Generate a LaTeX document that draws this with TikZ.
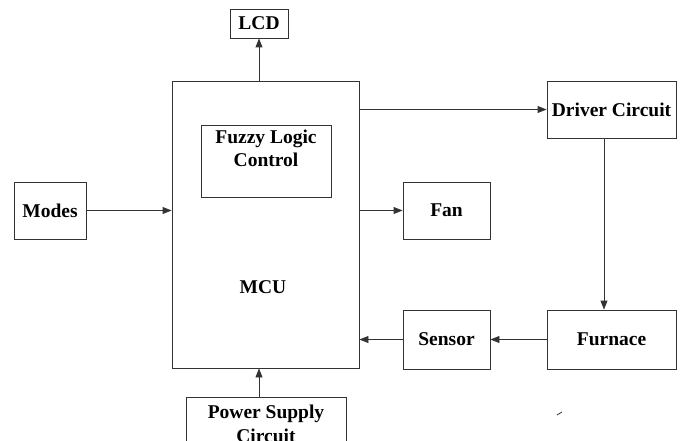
\documentclass[tikz,border=0pt]{standalone}
\usepackage{fontspec}
\setmainfont{Liberation Serif}
\usetikzlibrary{arrows.meta}
\begin{document}
\begin{tikzpicture}[x=1pt,y=-1pt,
  box/.style={draw=black!80,line width=0.9pt,rectangle,inner sep=0pt,
    font=\fontsize{19.5}{23}\selectfont\bfseries,align=center},
  lbl/.style={inner sep=0pt,font=\fontsize{19.5}{23}\selectfont\bfseries,align=center},
  conn/.style={draw=black!80,line width=0.9pt,-{Triangle[length=9pt,width=7pt]}}]
\useasboundingbox (0,0) rectangle (683,441);
\clip (0,0) rectangle (683,441);
\node[box,minimum width=58pt,minimum height=29pt] (lcd) at (259,23.5) {LCD};
\node[box,minimum width=187pt,minimum height=287pt] (mcu) at (265.5,224.5) {};
\node[lbl] (mcutext) at (263,287) {MCU};
\node[box,minimum width=130pt,minimum height=72pt] (flc) at (266,161) {};
\node[lbl,anchor=north] (flctext) at ([yshift=-5pt]flc.north) {Fuzzy Logic\\Control};
\node[box,minimum width=129pt,minimum height=57pt] (drv) at (611.5,109.5) {Driver Circuit};
\node[box,minimum width=129pt,minimum height=59pt] (fur) at (611.5,339.5) {Furnace};
\node[box,minimum width=87pt,minimum height=59pt] (sen) at (446.5,339.5) {Sensor};
\node[box,minimum width=87pt,minimum height=57pt] (fan) at (446.5,210.5) {Fan};
\node[box,minimum width=72pt,minimum height=57pt] (modes) at (50,210.5) {Modes};
\node[box,minimum width=160pt,minimum height=66pt] (ps) at (266,430) {};
\node[lbl,anchor=north,font=\fontsize{19.5}{24.5}\selectfont\bfseries] (pstext) at ([yshift=-8pt]ps.north) {Power Supply\\Circuit};
\draw[conn] (lcd.south |- mcu.north) -- (lcd.south);
\draw[conn] (mcu.east |- drv.west) -- (drv.west);
\draw[conn] ([xshift=-7.5pt]drv.south) -- ([xshift=-7.5pt]fur.north);
\draw[conn] (fur.west) -- (sen.east);
\draw[conn] (sen.west) -- (sen.west -| mcu.east);
\draw[conn] (modes.east) -- (modes.east -| mcu.west);
\draw[conn] (fan.west -| mcu.east) -- (fan.west);
\draw[conn] (ps.north -| lcd.south) -- (mcu.south -| lcd.south);
\draw[black!80,line width=0.8pt] (557,415) -- (562,412);
\end{tikzpicture}
\end{document}
